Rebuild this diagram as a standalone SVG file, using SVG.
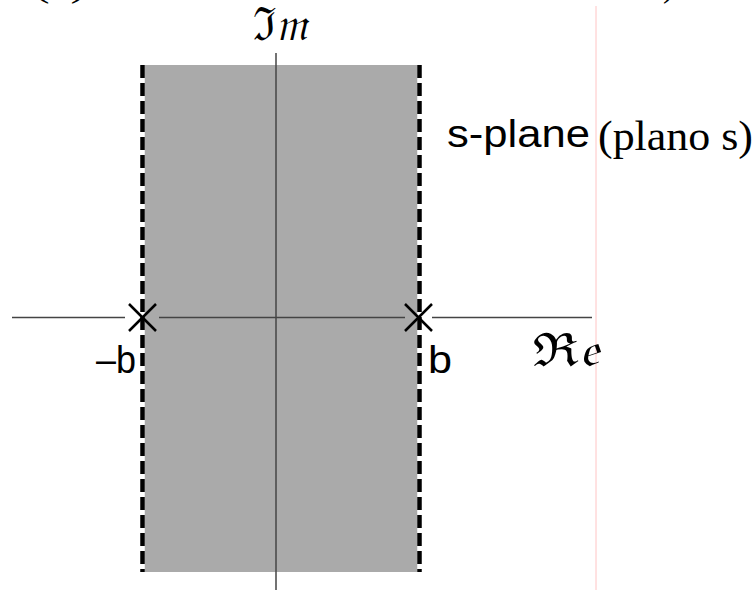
<svg xmlns="http://www.w3.org/2000/svg" width="753" height="590" viewBox="0 0 753 590">
  <style>
    .axis { stroke: #444; stroke-width: 1.5; fill: none; }
    .pole { stroke: #000; stroke-width: 2.5; fill: none; }
    .bound-bg { stroke: #fff; stroke-width: 4.5; fill: none; }
    .bound { stroke: #000; stroke-width: 4.5; stroke-dasharray: 13 5; fill: none; }
    .sans { font-family: "Liberation Sans", Arial, sans-serif; fill: #000; }
    .serif { font-family: "Liberation Serif", "Times New Roman", serif; fill: #000; }
    .math { font-family: "DejaVu Serif", "Noto Sans", serif; fill: #000; font-style: italic; }
  </style>
  <rect width="753" height="590" fill="#fff"/>
  <!-- clipped caption fragments -->
  <g id="caption">
    <text class="serif" x="34" y="-3" font-size="32" textLength="52" lengthAdjust="spacingAndGlyphs">(a)</text>
    <text class="serif" x="663" y="-3" font-size="32">)</text>
  </g>
  <line id="margin" x1="596" y1="6" x2="596" y2="590" stroke="#ffc4c4" stroke-width="1"/>
  <g id="region">
    <rect x="143" y="65" width="276" height="507" fill="#aaaaaa"/>
  </g>
  <g id="connectors">
    <line class="axis" x1="276" y1="53" x2="276" y2="590"/>
    <line class="axis" x1="12" y1="317.5" x2="125" y2="317.5"/>
    <line class="axis" x1="159" y1="317.5" x2="405" y2="317.5"/>
    <line class="axis" x1="432" y1="317.5" x2="592" y2="317.5"/>
    <line class="bound-bg" x1="142.5" y1="65" x2="142.5" y2="572"/>
    <line class="bound" x1="142.5" y1="65" x2="142.5" y2="572"/>
    <line class="bound-bg" x1="419.5" y1="65" x2="419.5" y2="572"/>
    <line class="bound" x1="419.5" y1="65" x2="419.5" y2="572"/>
  </g>
  <g id="pole-neg">
    <path class="pole" d="M129 304 L156 331 M156 304 L129 331"/>
    <text class="sans" x="96" y="373" font-size="38" textLength="40" lengthAdjust="spacingAndGlyphs">–b</text>
  </g>
  <g id="pole-pos">
    <path class="pole" d="M405 304 L432 331 M432 304 L405 331"/>
    <text class="sans" x="428" y="373" font-size="38" textLength="24" lengthAdjust="spacingAndGlyphs">b</text>
  </g>
  <g id="label-im">
    <text class="math" x="253" y="40" font-size="46" textLength="55" lengthAdjust="spacingAndGlyphs">ℑ𝔪</text>
  </g>
  <g id="label-re">
    <text class="math" x="533" y="366" font-size="46" textLength="66" lengthAdjust="spacingAndGlyphs">ℜ𝔢</text>
  </g>
  <g id="label-plane">
    <text class="sans" x="447" y="147" font-size="38" textLength="143" lengthAdjust="spacingAndGlyphs">s-plane</text>
    <text class="serif" x="598" y="150" font-size="42" textLength="155" lengthAdjust="spacingAndGlyphs">(plano s)</text>
  </g>
</svg>
